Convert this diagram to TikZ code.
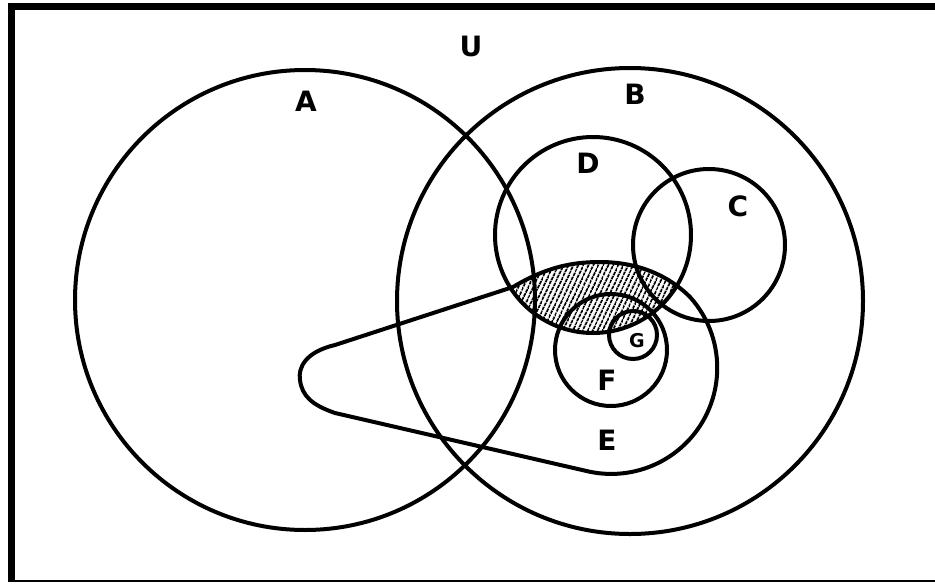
\documentclass[tikz,border=0pt]{standalone}
\usepackage{fontspec}
\setsansfont{DejaVu Sans}
\usetikzlibrary{patterns.meta}
\begin{document}
\begin{tikzpicture}[x=1pt,y=-1pt,
  lbl/.style={font=\sffamily\bfseries\fontsize{28}{28}\selectfont, inner sep=0pt, text=black},
  smalllbl/.style={font=\sffamily\bfseries\fontsize{19}{19}\selectfont, inner sep=0pt, text=black},
  ring/.style={draw=black, line width=4pt},
  framel/.style={draw=black, line cap=butt}]
\useasboundingbox (0,0) rectangle (935,584);
\fill[white] (0,0) rectangle (935,584);
% frame
\draw[framel, line width=7pt] (8,6) -- (935,6);
\draw[framel, line width=6.5pt] (11.5,3) -- (11.5,582);
\draw[framel, line width=2.5pt] (8,581) -- (935,581);
% hatched region: D intersect E
\begin{scope}
  \clip (593,235) circle[radius=98];
  \path[pattern={Lines[angle=65,distance=4pt,line width=2pt]}]
    (513,287) .. controls (545,268) and (570,262) .. (600,262)
    .. controls (640,262) and (670,277) .. (690,297)
    arc[start angle=-42, end angle=103, radius=106]
    -- (335,413)
    .. controls (312,405) and (302,396) .. (300,380)
    .. controls (298,368) and (305,352) .. (335,345)
    -- cycle;
\end{scope}
% circles
\draw[ring] (305,300) circle[radius=230];   % A
\draw[ring] (630,301) circle[radius=233];   % B
\draw[ring] (593,235) circle[radius=98];    % D
\draw[ring] (709,245) circle[radius=76];    % C
\draw[ring] (611,350) circle[radius=56];    % F
\draw[ring] (633,335) circle[radius=24];    % G
% E (teardrop)
\draw[ring, line join=round]
    (513,287) .. controls (545,268) and (570,262) .. (600,262)
    .. controls (640,262) and (670,277) .. (690,297)
    arc[start angle=-42, end angle=103, radius=106]
    -- (335,413)
    .. controls (312,405) and (302,396) .. (300,380)
    .. controls (298,368) and (305,352) .. (335,345)
    -- cycle;
% labels
\node[lbl] (U) at (471,46) {U};
\node[lbl] (A) at (306,101) {A};
\node[lbl] (B) at (635,94) {B};
\node[lbl] (D) at (588,163) {D};
\node[lbl] (C) at (738,206) {C};
\node[smalllbl] (G) at (637,341) {G};
\node[lbl] (F) at (607,380) {F};
\node[lbl] (E) at (607,440) {E};
\end{tikzpicture}
\end{document}
